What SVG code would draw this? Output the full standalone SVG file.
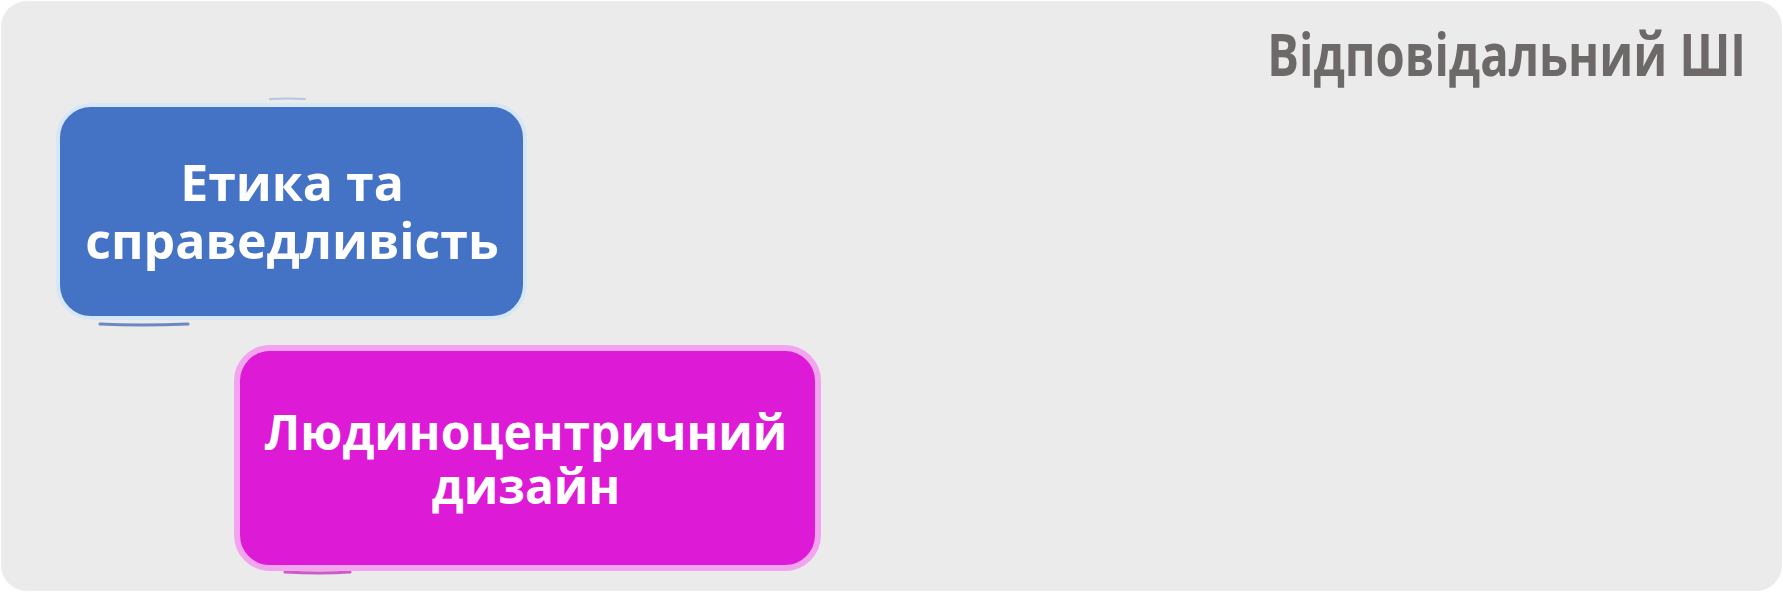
<svg xmlns="http://www.w3.org/2000/svg" width="1783" height="592" viewBox="0 0 1783 592">
<style>
.lbl{font-family:"Open Sans","Noto Sans","DejaVu Sans",sans-serif;font-weight:700;fill:#ffffff;text-anchor:middle}
.title{font-family:"Open Sans","Noto Sans","DejaVu Sans",sans-serif;font-weight:700;fill:#6d6969;text-anchor:end}
.sk{fill:none;stroke-linecap:round}
</style>
<rect x="0" y="0" width="1783" height="592" fill="#ffffff"/>
<rect x="1" y="1" width="1781" height="590" rx="26" fill="#ebebeb"/>
<g id="title" transform="translate(1746,76) scale(0.80,1)">
<text class="title" x="0" y="0" font-size="59">Відповідальний ШІ</text>
</g>
<g id="connectors"></g>
<g id="node-ethics">
<path class="sk" d="M100 324 Q140 326 188 324" stroke="#4a6fb8" stroke-width="3" opacity="0.8"/>
<path class="sk" d="M270 99 Q290 98 305 99" stroke="#9fb6d8" stroke-width="2" opacity="0.7"/>
<rect x="58" y="105" width="467" height="213" rx="33" fill="#4472c4" stroke="#d6e7f8" stroke-width="4"/>
<text class="lbl" font-size="50" x="292" y="201">Етика та</text>
<text class="lbl" font-size="50" x="292" y="259">справедливість</text>
</g>
<g id="node-human">
<path class="sk" d="M285 572 Q320 574 350 572" stroke="#c21cbc" stroke-width="3" opacity="0.7"/>
<rect x="237" y="348" width="581" height="220" rx="33" fill="#dd1ad6" stroke="#f3a4ef" stroke-width="6"/>
<text class="lbl" font-size="48" x="526" y="450">Людиноцентричний</text>
<text class="lbl" font-size="48" x="526" y="504">дизайн</text>
</g>
</svg>
